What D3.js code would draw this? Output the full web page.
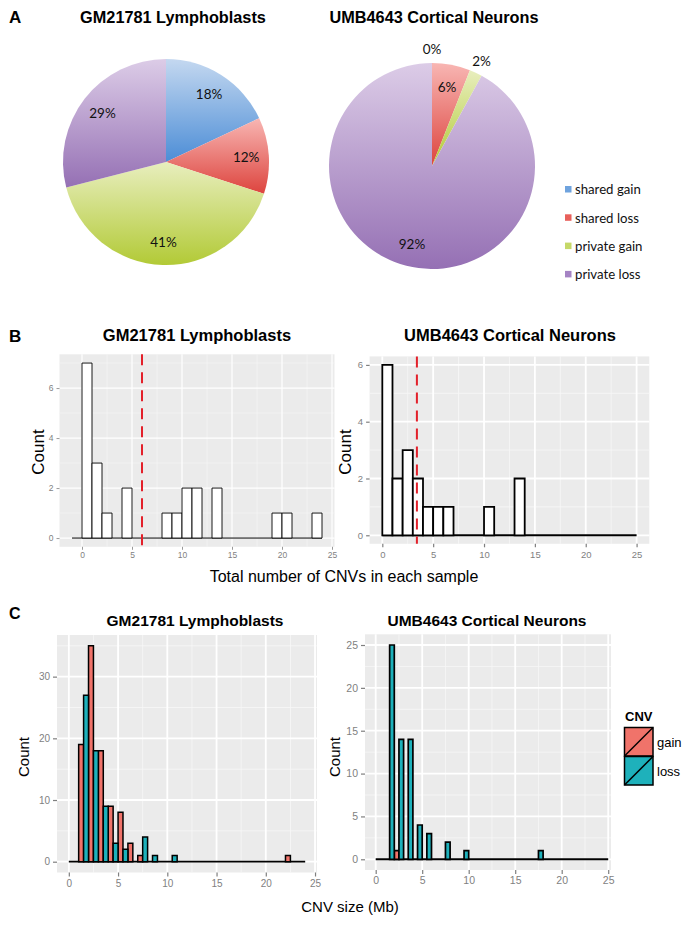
<!DOCTYPE html>
<html><head><meta charset="utf-8">
<script src="https://cdn.jsdelivr.net/npm/d3@7/dist/d3.min.js"></script>
<style>body{margin:0;background:#fff}svg{display:block}</style>
</head><body><svg id="fig" width="689" height="934"></svg>
<script>
// ---------------- DATA ----------------
const pieCategories = ["shared gain", "shared loss", "private gain", "private loss"];
const pieLymphoblasts = [18, 12, 41, 29];
const pieNeurons = [0, 6, 2, 92];
const sampleTitles = ["GM21781 Lymphoblasts", "UMB4643 Cortical Neurons"];

// Panel B: histogram of total CNVs per sample (bin starts, bin width 1)
const totalBinsLymph  = [-1,0,1,2,3,4,5,6,7,8,9,10,11,12,13,14,15,16,17,18,19,20,21,22,23];
const totalCountsLymph = [0,7,3,1,0,2,0,0,0,1,1,2,2,0,2,0,0,0,0,0,1,1,0,0,1];
const totalBinsNeuron  = [0,1,2,3,4,5,6,7,8,9,10,11,12,13,14,15,16,17,18,19,20,21,22,23,24];
const totalCountsNeuron = [6,2,3,2,1,1,1,0,0,0,1,0,0,2,0,0,0,0,0,0,0,0,0,0,0];
const medianLymph = 6;
const medianNeuron = 3.4;
const totalTicksX = [0,5,10,15,20,25];
const totalTicksY = [0,2,4,6];

// Panel C: CNV size histogram (Mb), dodged gain / loss
const sizeBinsLymph = [0,1,2,3,4,5,6,7,8,9,10,11,12,13,14,15,16,17,18,19,20,21,22,23];
const sizeGainLymph = [0,19,35,18,9,8,3,1,0,0,0,0,0,0,0,0,0,0,0,0,0,0,1,0];
const sizeLossLymph = [0,27,18,9,3,2,0,4,1,0,1,0,0,0,0,0,0,0,0,0,0,0,0,0];
const sizeBinsNeuron = [0,1,2,3,4,5,6,7,8,9,10,11,12,13,14,15,16,17,18,19,20,21,22,23,24];
const sizeGainNeuron = [0,0,1,0,0,0,0,0,0,0,0,0,0,0,0,0,0,0,0,0,0,0,0,0,0];
const sizeLossNeuron = [0,25,14,14,4,3,0,2,0,1,0,0,0,0,0,0,0,1,0,0,0,0,0,0,0];
const sizeTicksX = [0,5,10,15,20,25];
const sizeTicksYLymph = [0,10,20,30];
const sizeTicksYNeuron = [0,5,10,15,20,25];
const cnvTypes = ["gain", "loss"];

// ---------------- STYLE ----------------
const svg = d3.select("#fig");
const GG = "'Liberation Sans', Arial, Helvetica, sans-serif";
const CAL = "Lato, 'Open Sans', sans-serif";
const pieGrad = [["#C4D8F0", "#4C8DD6"], ["#F8B6B3", "#DD443E"], ["#E8EEBE", "#B2CA36"], ["#DCCCE7", "#9570B4"]];
const legendSwatch = ["#6FA3DE", "#E8605B", "#C5D868", "#A583C4"];
const cnvColor = {gain: "#F0736A", loss: "#1EB1BB"};

const defs = svg.append("defs");
pieGrad.forEach((c, i) => {
  const g = defs.append("linearGradient").attr("id", "pg" + i)
    .attr("x1", 0).attr("y1", 0).attr("x2", 0).attr("y2", 1);
  g.append("stop").attr("offset", "0%").attr("stop-color", c[0]);
  g.append("stop").attr("offset", "100%").attr("stop-color", c[1]);
});

function txt(x, y, s, o = {}) {
  return svg.append("text").attr("x", x).attr("y", y).text(s)
    .attr("font-family", o.family || GG).attr("font-size", o.size || 14)
    .attr("font-weight", o.weight || "normal").attr("fill", o.fill || "#000")
    .attr("text-anchor", o.anchor || "start");
}

// ---------------- PANEL A ----------------
txt(9, 23, "A", {size: 17, weight: "bold"});
txt(173, 23, sampleTitles[0], {size: 16.3, weight: "bold", anchor: "middle"});
txt(434, 23, sampleTitles[1], {size: 16.3, weight: "bold", anchor: "middle"});

function drawPie(cx, cy, r, values) {
  const pie = d3.pie().sort(null).value(d => d);
  const arcs = pie(values);
  const arc = d3.arc().innerRadius(0).outerRadius(r);
  const g = svg.append("g").attr("transform", `translate(${cx},${cy})`);
  g.selectAll("path").data(arcs).join("path")
    .attr("d", arc).attr("fill", (d, i) => `url(#pg${i})`);
  const inner = d3.arc().innerRadius(r * 0.78).outerRadius(r * 0.78);
  const outer = d3.arc().innerRadius(r * 1.13).outerRadius(r * 1.13);
  g.selectAll("text").data(arcs).join("text")
    .attr("transform", d => `translate(${(d.data < 5 ? outer : inner).centroid(d)})`)
    .attr("text-anchor", "middle").attr("dy", "0.36em")
    .attr("font-family", CAL).attr("font-size", 13.5).attr("fill", "#111")
    .text(d => d.data + "%");
}
drawPie(166, 162, 103, pieLymphoblasts);
drawPie(432, 166, 103, pieNeurons);

const legA = svg.append("g");
legA.selectAll("rect").data(pieCategories).join("rect")
  .attr("x", 565).attr("y", (d, i) => 186 + i * 28.3).attr("width", 6.5).attr("height", 6.5)
  .attr("fill", (d, i) => legendSwatch[i]);
legA.selectAll("text").data(pieCategories).join("text")
  .attr("x", 575).attr("y", (d, i) => 189.5 + i * 28.3).attr("dy", "0.36em")
  .attr("font-family", CAL).attr("font-size", 13.2).attr("fill", "#111").text(d => d);

// ---------------- ggplot-like panel ----------------
function ggPanel(o) {
  const x = d3.scaleLinear().domain(o.xDomain).range([o.left, o.right]);
  const y = d3.scaleLinear().domain(o.yDomain).range([o.bottom, o.top]);
  const g = svg.append("g");
  g.append("rect").attr("x", o.left).attr("y", o.top)
    .attr("width", o.right - o.left).attr("height", o.bottom - o.top).attr("fill", "#EBEBEB");
  const xMinor = o.xTicks.slice(0, -1).map((d, i) => (d + o.xTicks[i + 1]) / 2)
    .filter(d => d > o.xDomain[0] && d < o.xDomain[1]);
  const yStep = o.yTicks[1] - o.yTicks[0];
  const yMinor = o.yTicks.map(d => d + yStep / 2).filter(d => d > o.yDomain[0] && d < o.yDomain[1]);
  g.selectAll(null).data(xMinor).join("line")
    .attr("x1", d => x(d)).attr("x2", d => x(d)).attr("y1", o.top).attr("y2", o.bottom)
    .attr("stroke", "#F7F7F7").attr("stroke-width", o.minorW);
  g.selectAll(null).data(yMinor).join("line")
    .attr("y1", d => y(d)).attr("y2", d => y(d)).attr("x1", o.left).attr("x2", o.right)
    .attr("stroke", "#F7F7F7").attr("stroke-width", o.minorW);
  g.selectAll(null).data(o.xTicks).join("line")
    .attr("x1", d => x(d)).attr("x2", d => x(d)).attr("y1", o.top).attr("y2", o.bottom)
    .attr("stroke", "#fff").attr("stroke-width", o.majorW);
  g.selectAll(null).data(o.yTicks).join("line")
    .attr("y1", d => y(d)).attr("y2", d => y(d)).attr("x1", o.left).attr("x2", o.right)
    .attr("stroke", "#fff").attr("stroke-width", o.majorW);
  const style = s => {
    s.select(".domain").remove();
    s.selectAll("line").attr("stroke", "#7F7F7F").attr("stroke-width", o.tickW);
    s.selectAll("text").attr("fill", "#7F7F7F").attr("font-size", o.tickFont).attr("font-family", GG);
  };
  const fmt = d3.format("d");
  g.append("g").attr("transform", `translate(0,${o.bottom})`)
    .call(d3.axisBottom(x).tickValues(o.xTicks).tickFormat(fmt).tickSize(o.tickLen).tickPadding(o.xPad)).call(style);
  g.append("g").attr("transform", `translate(${o.left},0)`)
    .call(d3.axisLeft(y).tickValues(o.yTicks).tickFormat(fmt).tickSize(o.tickLen).tickPadding(o.yPad)).call(style);
  svg.append("text").attr("transform", `translate(${o.countX},${o.countY}) rotate(-90)`)
    .attr("text-anchor", "middle").attr("font-family", GG).attr("font-size", o.countSize)
    .text("Count");
  svg.append("text").attr("x", o.titleX).attr("y", o.titleY).attr("text-anchor", "middle")
    .attr("font-family", GG).attr("font-weight", "bold").attr("font-size", o.titleSize).text(o.title);
  return {x, y, g};
}

function barPath(x, y, x0, x1, v) {
  return `M${x(x0)},${y(0)}V${y(v)}H${x(x1)}V${y(0)}Z`;
}
function baseline(p, bins, sw) {
  p.g.append("line").attr("x1", p.x(bins[0])).attr("x2", p.x(bins[bins.length - 1] + 1))
    .attr("y1", p.y(0)).attr("y2", p.y(0)).attr("stroke", "#000").attr("stroke-width", sw);
}

// ---------------- PANEL B ----------------
txt(9, 342, "B", {size: 17, weight: "bold"});
{
  const p = ggPanel({left: 59.5, right: 334.5, top: 354.3, bottom: 546.8,
    xDomain: [-2.25, 25.25], yDomain: [-0.35, 7.35], xTicks: totalTicksX, yTicks: totalTicksY,
    minorW: 0.6, majorW: 1.2, tickW: 0.8, tickLen: 3, tickFont: 8.5, xPad: 2.5, yPad: 3,
    countX: 44, countY: 452, countSize: 17,
    title: sampleTitles[0], titleX: 197, titleY: 341, titleSize: 16.5});
  baseline(p, totalBinsLymph, 1);
  p.g.selectAll(".bar").data(totalBinsLymph.filter((b, i) => totalCountsLymph[i] > 0)).join("path").attr("class", "bar")
    .attr("d", b => barPath(p.x, p.y, b, b + 1, totalCountsLymph[totalBinsLymph.indexOf(b)]))
    .attr("fill", "#fff").attr("stroke", "#000").attr("stroke-width", 0.9);
  p.g.append("line").attr("x1", p.x(medianLymph)).attr("x2", p.x(medianLymph))
    .attr("y1", p.y(7.35)).attr("y2", p.y(-0.35))
    .attr("stroke", "#E3202A").attr("stroke-width", 2).attr("stroke-dasharray", "11,7");
}
{
  const p = ggPanel({left: 369.6, right: 649.3, top: 356.4, bottom: 543.8,
    xDomain: [-1.25, 26.25], yDomain: [-0.3, 6.3], xTicks: totalTicksX, yTicks: totalTicksY,
    minorW: 0.8, majorW: 1.8, tickW: 1.2, tickLen: 3.5, tickFont: 9.5, xPad: 3.5, yPad: 3,
    countX: 351, countY: 452, countSize: 17,
    title: sampleTitles[1], titleX: 510, titleY: 341, titleSize: 16.5});
  baseline(p, totalBinsNeuron, 2);
  p.g.selectAll(".bar").data(totalBinsNeuron.filter((b, i) => totalCountsNeuron[i] > 0)).join("path").attr("class", "bar")
    .attr("d", b => barPath(p.x, p.y, b, b + 1, totalCountsNeuron[totalBinsNeuron.indexOf(b)]))
    .attr("fill", "#fff").attr("stroke", "#000").attr("stroke-width", 1.8);
  p.g.append("line").attr("x1", p.x(medianNeuron)).attr("x2", p.x(medianNeuron))
    .attr("y1", p.y(6.3)).attr("y2", p.y(-0.3))
    .attr("stroke", "#E3202A").attr("stroke-width", 2).attr("stroke-dasharray", "11,7");
}
txt(344, 582, "Total number of CNVs in each sample", {size: 16, anchor: "middle"});

// ---------------- PANEL C ----------------
txt(9, 619, "C", {size: 16, weight: "bold"});
function dodgedBars(p, bins, gain, loss, sw) {
  baseline(p, bins, sw + 0.3);
  const series = [gain, loss];
  cnvTypes.forEach((t, k) => {
    const idx = bins.map((b, i) => i).filter(i => series[k][i] > 0);
    p.g.selectAll(".b" + t).data(idx).join("path").attr("class", "b" + t)
      .attr("d", i => barPath(p.x, p.y, bins[i] + k * 0.5, bins[i] + (k + 1) * 0.5, series[k][i]))
      .attr("fill", cnvColor[t]).attr("stroke", "#000").attr("stroke-width", sw);
  });
}
{
  const p = ggPanel({left: 57, right: 317, top: 635, bottom: 872.5,
    xDomain: [-1.2, 25.2], yDomain: [-1.75, 36.75], xTicks: sizeTicksX, yTicks: sizeTicksYLymph,
    minorW: 0.8, majorW: 1.8, tickW: 1.2, tickLen: 4, tickFont: 10, xPad: 3, yPad: 3,
    countX: 29, countY: 757, countSize: 15,
    title: sampleTitles[0], titleX: 195, titleY: 626, titleSize: 15.5});
  dodgedBars(p, sizeBinsLymph, sizeGainLymph, sizeLossLymph, 1.5);
}
{
  const p = ggPanel({left: 365, right: 611, top: 634.3, bottom: 870,
    xDomain: [-1.15, 25.3], yDomain: [-1.25, 26.25], xTicks: sizeTicksX, yTicks: sizeTicksYNeuron,
    minorW: 0.8, majorW: 1.8, tickW: 1.2, tickLen: 4, tickFont: 10.5, xPad: 3, yPad: 3,
    countX: 340, countY: 757, countSize: 15,
    title: sampleTitles[1], titleX: 487, titleY: 626, titleSize: 15.5});
  dodgedBars(p, sizeBinsNeuron, sizeGainNeuron, sizeLossNeuron, 1.7);
}
// legend C
{
  const lg = svg.append("g");
  lg.append("text").attr("x", 625).attr("y", 721).attr("font-family", GG)
    .attr("font-weight", "bold").attr("font-size", 13).text("CNV");
  cnvTypes.forEach((t, i) => {
    const y0 = 727.5 + i * 29;
    lg.append("rect").attr("x", 624.5).attr("y", y0).attr("width", 28.5).attr("height", 28.5)
      .attr("fill", cnvColor[t]).attr("stroke", "#000").attr("stroke-width", 1.5);
    lg.append("line").attr("x1", 624.5).attr("y1", y0 + 28.5).attr("x2", 653).attr("y2", y0)
      .attr("stroke", "#000").attr("stroke-width", 1.5);
    lg.append("text").attr("x", 657).attr("y", y0 + 14.5).attr("dy", "0.36em")
      .attr("font-family", GG).attr("font-size", 13).text(t);
  });
}
txt(350, 912, "CNV size (Mb)", {size: 15, anchor: "middle"});
</script></body></html>
